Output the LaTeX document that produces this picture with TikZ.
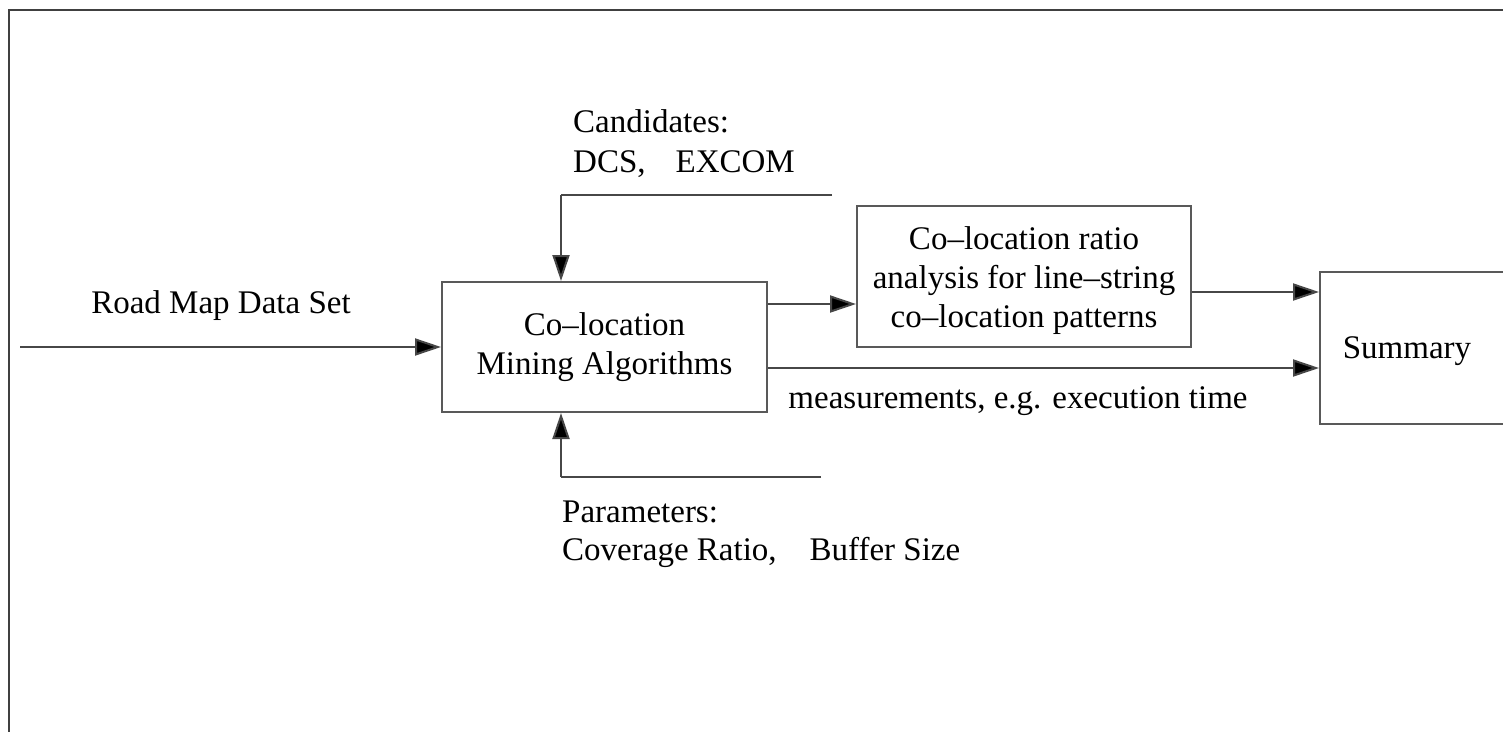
\documentclass[tikz,border=0pt]{standalone}
\usepackage{fontspec}
\setmainfont{Liberation Serif}
\usetikzlibrary{arrows.meta}
\tikzset{
  ln/.style={draw=black!72, line width=2pt},
  arr/.style={ln, -{Triangle[length=26pt,width=17pt,fill=black]}},
  boxnode/.style={draw=black!65, line width=2pt, rectangle, inner sep=0pt, align=center},
  txt/.style={inner sep=0pt, font=\fontsize{33}{39}\selectfont},
}
\begin{document}
\begin{tikzpicture}[x=1pt,y=-1pt]
\useasboundingbox (0,0) rectangle (1503,731);
\clip (0,0) rectangle (1503,731);
% frame
\draw[draw=black!75, line width=2.5pt] (1510,10) -- (9,10) -- (9,740);
% boxes
\node[boxnode, txt, minimum width=325pt, minimum height=130pt] (mine) at (604.5,347) {Co--location\\Mining Algorithms};
\node[boxnode, minimum width=334pt, minimum height=141pt] (ratio) at (1024,276.5) {};
\node[txt, align=center] (ratiotext) at (1024,281) {Co--location ratio\\analysis for line--string\\co--location patterns};
\node[boxnode, minimum width=230pt, minimum height=152pt, anchor=north west] (sum) at (1319,271) {};
\node[txt, anchor=base] (sumtext) at (1407,358) {Summary};
% labels
\node[txt, anchor=base] (road) at (221,313) {Road Map Data Set};
\node[txt, anchor=base west] (cand1) at (573,132) {Candidates:};
\node[txt, anchor=base west] (cand2) at (573,172) {DCS,\hspace{30pt}EXCOM};
\node[txt, anchor=base west] (par1) at (562,522) {Parameters:};
\node[txt, anchor=base west] (par2) at (562,560) {Coverage Ratio,\hspace{33pt}Buffer Size};
\node[txt, anchor=base] (meas) at (1018,408) {measurements, e.g. execution time};
% coordinates
\coordinate (inL) at (20,347);
\coordinate (topR) at (832,195);
\coordinate (topL) at (561,195);
\coordinate (botR) at (821,477);
\coordinate (botL) at (561,477);
\coordinate (y304) at (0,304);
\coordinate (y292) at (0,292);
\coordinate (y368) at (0,368);
% connectors
\draw[arr] (inL) -- (mine.west);
\draw[ln] (topR) -- (topL);
\draw[arr] (topL) -- (topL |- mine.north);
\draw[ln] (botR) -- (botL);
\draw[arr] (botL) -- (botL |- mine.south);
\draw[arr] (mine.east |- y304) -- (ratio.west |- y304);
\draw[arr] (ratio.east |- y292) -- (sum.west |- y292);
\draw[arr] (mine.east |- y368) -- (sum.west |- y368);
\end{tikzpicture}
\end{document}
